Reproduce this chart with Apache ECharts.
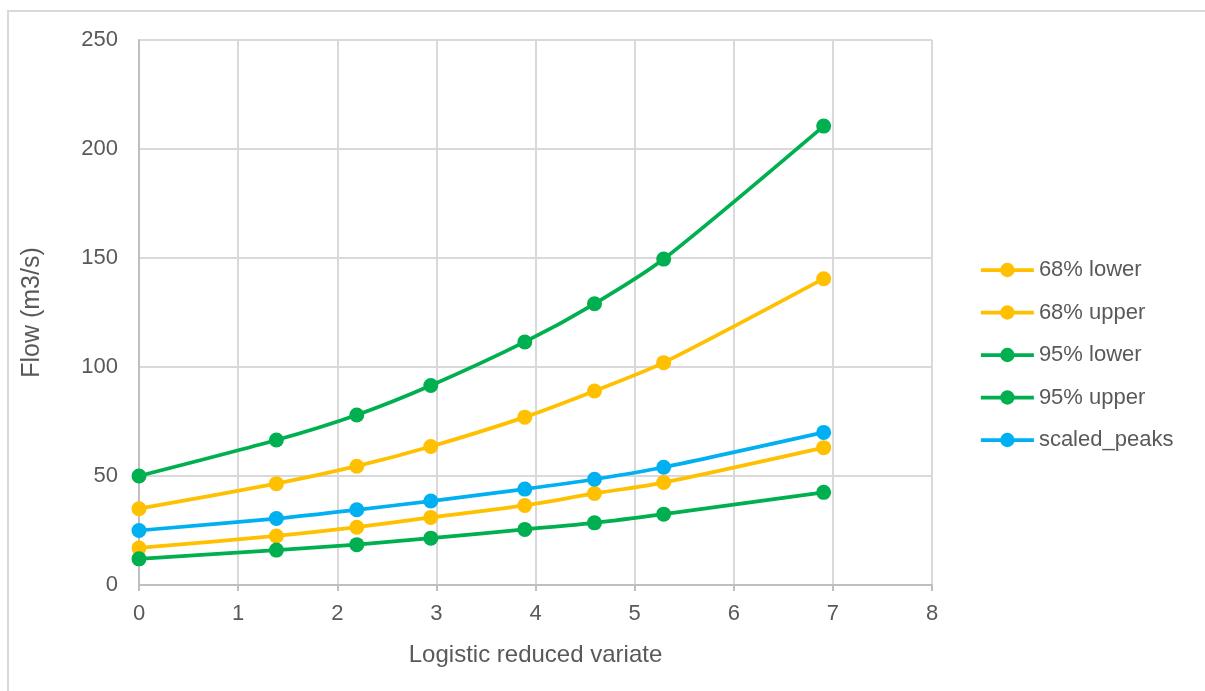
<!DOCTYPE html>
<html>
<head>
<meta charset="utf-8">
<script src="https://cdn.jsdelivr.net/npm/echarts@6/dist/echarts.min.js"></script>
<style>
  html, body { margin: 0; padding: 0; background: #fff; }
  #frame { position: absolute; left: 7px; top: 10px; width: 1220px; height: 700px; border: 2px solid #d9d9d9; box-sizing: border-box; }
  #chart { position: absolute; left: 0; top: 0; width: 1205px; height: 691px; }
</style>
</head>
<body>
<div id="frame"></div>
<div id="chart"></div>
<script>
// logistic reduced variate, ln(T - 1)
const variate = [0, 1.386, 2.197, 2.944, 3.892, 4.595, 5.293, 6.907]

const lower68 = [17, 22.5, 26.5, 31, 36.5, 42, 47, 63]
const upper68 = [35, 46.5, 54.5, 63.5, 77, 89, 102, 140.5]
const lower95 = [12, 16, 18.5, 21.5, 25.5, 28.5, 32.5, 42.5]
const upper95 = [50, 66.5, 78, 91.5, 111.5, 129, 149.5, 210.5]
const scaledPeaks = [25, 30.5, 34.5, 38.5, 44, 48.5, 54, 70]

const seriesList = [
  { name: "68% lower", values: lower68, color: "#FFC000" },
  { name: "68% upper", values: upper68, color: "#FFC000" },
  { name: "95% lower", values: lower95, color: "#00B050" },
  { name: "95% upper", values: upper95, color: "#00B050" },
  { name: "scaled_peaks", values: scaledPeaks, color: "#00B0F0" },
]

const font = "'Liberation Sans', Arial, sans-serif"
const textColor = "#595959"

const chart = echarts.init(document.getElementById("chart"))

chart.setOption({
  animation: false,
  textStyle: { fontFamily: font },
  grid: { left: 139, right: 273, top: 40, bottom: 106, containLabel: false },
  legend: {
    orient: "vertical",
    left: 974,
    top: 254,
    itemWidth: 53,
    itemHeight: 18,
    itemGap: 20.5,
    lineStyle: { width: 3.75 },
    textStyle: { fontSize: 22, color: textColor, lineHeight: 22, fontFamily: font },
    data: seriesList.map(s => s.name),
  },
  xAxis: {
    type: "value",
    min: 0,
    max: 8,
    interval: 1,
    name: "Logistic reduced variate",
    nameLocation: "middle",
    nameGap: 58,
    nameTextStyle: { fontSize: 24, color: textColor },
    axisLine: { show: true, lineStyle: { color: "#bfbfbf", width: 2 } },
    axisTick: { show: true, length: 6, lineStyle: { color: "#bfbfbf", width: 2 } },
    axisLabel: { fontSize: 22, color: textColor, margin: 18 },
    splitLine: { show: true, lineStyle: { color: "#d9d9d9", width: 2 } },
  },
  yAxis: {
    type: "value",
    min: 0,
    max: 250,
    interval: 50,
    name: "Flow (m3/s)",
    nameLocation: "middle",
    nameGap: 94,
    nameTextStyle: { fontSize: 25, color: textColor },
    axisLine: { show: true, lineStyle: { color: "#bfbfbf", width: 2 } },
    axisTick: { show: false },
    axisLabel: { fontSize: 22, color: textColor, margin: 21 },
    splitLine: { show: true, lineStyle: { color: "#d9d9d9", width: 2 } },
  },
  series: seriesList.map(s => ({
    name: s.name,
    type: "line",
    smooth: 0.25,
    data: variate.map((x, i) => [x, s.values[i]]),
    symbol: "circle",
    symbolSize: 15,
    lineStyle: { color: s.color, width: 3.75 },
    itemStyle: { color: s.color },
  })),
})
</script>
</body>
</html>
